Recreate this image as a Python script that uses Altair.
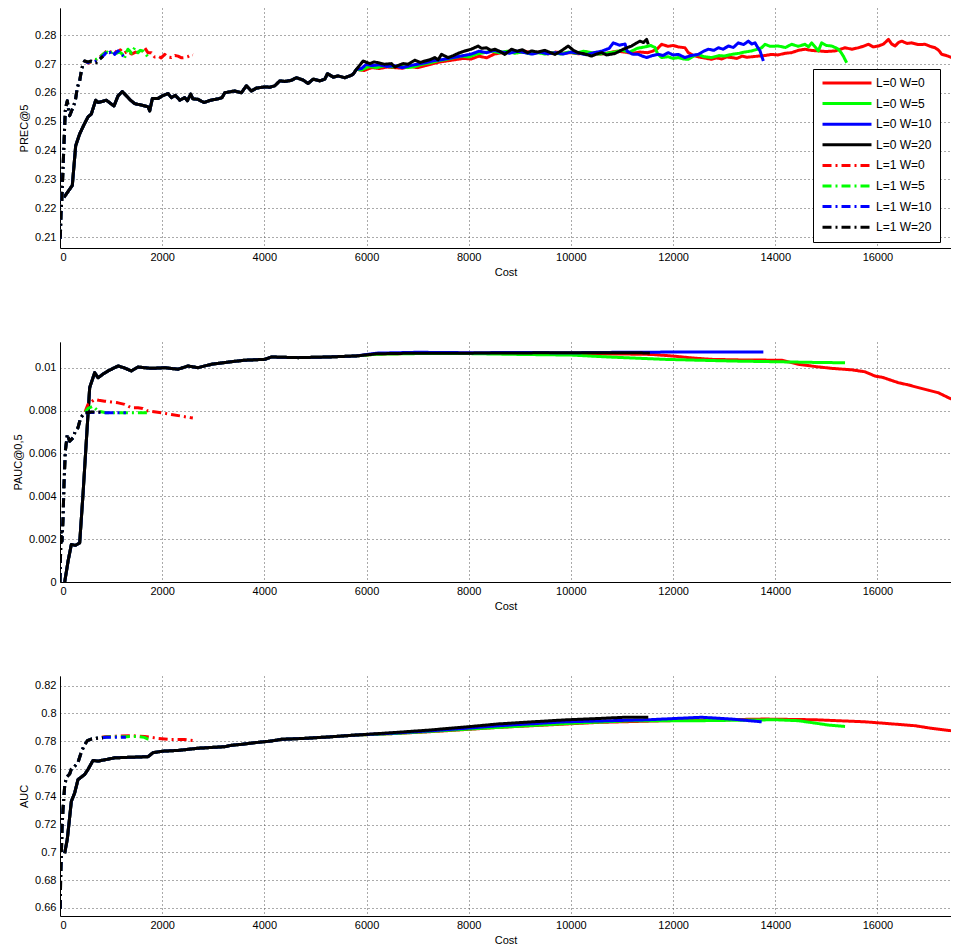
import altair as alt
import pandas as pd

# ---------------- categories / styles ----------------
SERIES = ["L=0 W=0", "L=0 W=5", "L=0 W=10", "L=0 W=20",
          "L=1 W=0", "L=1 W=5", "L=1 W=10", "L=1 W=20"]
COLORS = ["#ff0000", "#00ff00", "#0000ff", "#000000",
          "#ff0000", "#00ff00", "#0000ff", "#000000"]
DASHES = [[1, 0], [1, 0], [1, 0], [1, 0],
          [9, 4, 2, 4], [9, 4, 2, 4], [9, 4, 2, 4], [9, 4, 2, 4]]

X_TICKS = [0, 2000, 4000, 6000, 8000, 10000, 12000, 14000, 16000]
X_DOMAIN = [0, 17440]

P1_TICKS = [0.21, 0.22, 0.23, 0.24, 0.25, 0.26, 0.27, 0.28]
P1_DOMAIN = [0.2062, 0.2895]
P2_TICKS = [0, 0.002, 0.004, 0.006, 0.008, 0.01]
P2_DOMAIN = [0, 0.0112]
P3_TICKS = [0.66, 0.68, 0.70, 0.72, 0.74, 0.76, 0.78, 0.80, 0.82]
P3_DOMAIN = [0.6542, 0.827]

# ---------------- panel 1: PREC@5 ----------------
# early part shared by all L=0 runs (hidden under L=0 W=20)
P1_L0_BASE_X = [78, 241, 307, 385, 470, 548, 613, 699, 744, 820, 907, 980, 1057, 1136, 1220, 1300,
                1380, 1462, 1600, 1723, 1756, 1808, 1919, 2003, 2115, 2180, 2258, 2344, 2441, 2493,
                2558, 2600, 2700, 2819, 2950, 3100, 3172, 3225, 3421, 3551, 3648, 3746, 3844, 4008,
                4106, 4204, 4302, 4400, 4529, 4627, 4758, 4856, 4954, 5085, 5183, 5235, 5350, 5443,
                5574, 5680, 5737, 5802]
P1_L0_BASE_Y = [0.2238, 0.2279, 0.2417, 0.2458, 0.2490, 0.2517, 0.2527, 0.2575, 0.2567, 0.2570,
                0.2575, 0.2565, 0.2555, 0.2590, 0.2605, 0.2590, 0.2575, 0.2563, 0.2558, 0.2552,
                0.2538, 0.2581, 0.2581, 0.2590, 0.2598, 0.2584, 0.2592, 0.2575, 0.2584, 0.2573,
                0.2596, 0.2580, 0.2578, 0.2567, 0.2575, 0.2580, 0.2584, 0.2601, 0.2607, 0.2601,
                0.2625, 0.2607, 0.2617, 0.2621, 0.2620, 0.2625, 0.2642, 0.2640, 0.2644, 0.2653,
                0.2645, 0.2633, 0.2648, 0.2642, 0.2648, 0.2667, 0.2655, 0.2659, 0.2653, 0.2660,
                0.2665, 0.2682]
P1_L0W20_X = [5933, 6064, 6150, 6227, 6350, 6488, 6553, 6650, 6716, 6814, 6945, 7050, 7141, 7250,
              7337, 7400, 7467, 7597, 7700, 7800, 7924, 8050, 8185, 8250, 8348, 8430, 8511, 8600,
              8707, 8838, 8950, 9050, 9150, 9230, 9350, 9491, 9600, 9687, 9800, 9948, 10050, 10144,
              10280, 10405, 10500, 10601, 10700, 10862, 10950, 11026, 11110, 11189, 11270, 11352,
              11420, 11482, 11515]
P1_L0W20_Y = [0.2711, 0.2702, 0.2708, 0.2705, 0.2700, 0.2702, 0.2690, 0.2698, 0.2702, 0.2700,
              0.2714, 0.2706, 0.2711, 0.2716, 0.2723, 0.2715, 0.2734, 0.2723, 0.2730, 0.2738,
              0.2746, 0.2752, 0.2763, 0.2755, 0.2757, 0.2748, 0.2752, 0.2745, 0.2734, 0.2752,
              0.2745, 0.2750, 0.2740, 0.2746, 0.2742, 0.2748, 0.2740, 0.2734, 0.2745, 0.2763,
              0.2748, 0.2740, 0.2735, 0.2728, 0.2735, 0.2740, 0.2732, 0.2737, 0.2745, 0.2752,
              0.2758, 0.2763, 0.2772, 0.2780, 0.2775, 0.2786, 0.2769]
P1_L0W10_X = [5900, 6000, 6100, 6250, 6400, 6550, 6700, 6850, 7000, 7150, 7300, 7450, 7600, 7750,
              7900, 8050, 8200, 8350, 8500, 8650, 8800, 8950, 9100, 9250, 9400, 9550, 9700, 9850,
              10000, 10150, 10300, 10450, 10600, 10750, 10830, 10950, 11060, 11100, 11200, 11319,
              11400, 11482, 11600, 11711, 11800, 11906, 12000, 12102, 12233, 12350, 12494, 12600,
              12690, 12800, 12886, 12980, 13082, 13180, 13277, 13380, 13473, 13540, 13604, 13650,
              13702, 13767]
P1_L0W10_Y = [0.2685, 0.2700, 0.2695, 0.2698, 0.2692, 0.2695, 0.2688, 0.2695, 0.2700, 0.2705,
              0.2712, 0.2715, 0.2720, 0.2725, 0.2730, 0.2735, 0.2745, 0.2740, 0.2748, 0.2742,
              0.2738, 0.2745, 0.2740, 0.2735, 0.2742, 0.2736, 0.2740, 0.2735, 0.2742, 0.2738,
              0.2733, 0.2740, 0.2745, 0.2755, 0.2774, 0.2766, 0.2770, 0.2745, 0.2735, 0.2734,
              0.2728, 0.2723, 0.2730, 0.2734, 0.2730, 0.2740, 0.2732, 0.2734, 0.2723, 0.2730,
              0.2734, 0.2745, 0.2752, 0.2748, 0.2757, 0.2752, 0.2763, 0.2758, 0.2774, 0.2768,
              0.2780, 0.2770, 0.2774, 0.2760, 0.2746, 0.2711]
P1_L0W5_X = [5900, 6050, 6200, 6350, 6500, 6650, 6800, 6950, 7100, 7250, 7400, 7550, 7700, 7850,
             8000, 8150, 8300, 8450, 8600, 8750, 8900, 9050, 9200, 9350, 9500, 9650, 9800, 9950,
             10100, 10250, 10400, 10550, 10700, 10850, 11000, 11150, 11300, 11450, 11560, 11645,
             11700, 11776, 11900, 12000, 12102, 12200, 12298, 12400, 12494, 12600, 12755, 12900,
             13000, 13147, 13300, 13400, 13538, 13650, 13734, 13799, 13900, 14060, 14200, 14321,
             14450, 14582, 14650, 14713, 14780, 14843, 14908, 15000, 15104, 15170, 15235, 15290,
             15333, 15398]
P1_L0W5_Y = [0.2680, 0.2692, 0.2688, 0.2695, 0.2690, 0.2694, 0.2688, 0.2692, 0.2700, 0.2705,
             0.2712, 0.2716, 0.2722, 0.2728, 0.2725, 0.2735, 0.2740, 0.2745, 0.2740, 0.2745,
             0.2738, 0.2742, 0.2736, 0.2740, 0.2735, 0.2740, 0.2735, 0.2742, 0.2738, 0.2745,
             0.2740, 0.2735, 0.2738, 0.2742, 0.2748, 0.2742, 0.2755, 0.2760, 0.2765, 0.2758,
             0.2735, 0.2723, 0.2726, 0.2720, 0.2723, 0.2718, 0.2717, 0.2728, 0.2734, 0.2726,
             0.2723, 0.2730, 0.2728, 0.2734, 0.2738, 0.2742, 0.2746, 0.2752, 0.2757, 0.2769,
             0.2762, 0.2763, 0.2758, 0.2769, 0.2762, 0.2769, 0.2760, 0.2774, 0.2760, 0.2746,
             0.2774, 0.2765, 0.2763, 0.2758, 0.2752, 0.2740, 0.2728, 0.2705]
P1_L0W0_X = [5950, 6100, 6250, 6400, 6550, 6700, 6850, 7000, 7150, 7300, 7450, 7600, 7750, 7900,
             8050, 8200, 8350, 8500, 8650, 8800, 8950, 9100, 9250, 9400, 9550, 9700, 9850, 10000,
             10150, 10300, 10450, 10600, 10750, 10900, 11050, 11200, 11350, 11500, 11600, 11700,
             11776, 11900, 12000, 12100, 12233, 12298, 12400, 12500, 12600, 12755, 12850, 12950,
             13050, 13147, 13250, 13350, 13450, 13550, 13669, 13800, 13930, 14050, 14200, 14321,
             14450, 14582, 14700, 14843, 15000, 15170, 15280, 15366, 15500, 15627, 15720, 15823,
             15920, 16019, 16120, 16215, 16280, 16346, 16410, 16476, 16580, 16672, 16800, 16933,
             17030, 17129, 17200, 17259, 17350, 17455, 17520, 17580]
P1_L0W0_Y = [0.2678, 0.2688, 0.2685, 0.2690, 0.2688, 0.2686, 0.2692, 0.2688, 0.2695, 0.2702,
             0.2708, 0.2712, 0.2716, 0.2720, 0.2718, 0.2728, 0.2722, 0.2735, 0.2740, 0.2745,
             0.2740, 0.2745, 0.2738, 0.2742, 0.2736, 0.2742, 0.2738, 0.2740, 0.2736, 0.2742,
             0.2738, 0.2735, 0.2740, 0.2745, 0.2742, 0.2738, 0.2742, 0.2740, 0.2745, 0.2755,
             0.2769, 0.2762, 0.2765, 0.2760, 0.2757, 0.2740, 0.2730, 0.2725, 0.2722, 0.2717,
             0.2722, 0.2718, 0.2725, 0.2723, 0.2720, 0.2728, 0.2724, 0.2726, 0.2728, 0.2730,
             0.2734, 0.2732, 0.2738, 0.2740, 0.2748, 0.2752, 0.2748, 0.2746, 0.2744, 0.2746,
             0.2752, 0.2757, 0.2752, 0.2757, 0.2762, 0.2769, 0.2760, 0.2763, 0.2770, 0.2786,
             0.2770, 0.2763, 0.2775, 0.2780, 0.2772, 0.2774, 0.2768, 0.2769, 0.2762, 0.2757,
             0.2748, 0.2734, 0.2730, 0.2723, 0.2716, 0.2711]
# early part shared by all L=1 runs (hidden under L=1 W=20)
P1_L1_BASE_X = [6, 20, 35, 55, 75, 90, 104, 125, 143, 170, 189, 220, 255, 300, 339, 385, 418, 450, 483]
P1_L1_BASE_Y = [0.2094, 0.2181, 0.2227, 0.2319, 0.2411, 0.2480, 0.2538, 0.2560, 0.2573, 0.2538,
                0.2521, 0.2535, 0.2550, 0.2573, 0.2619, 0.2642, 0.2677, 0.2700, 0.2711]
P1_L1W20_X = [550, 613, 660, 711, 777, 842]
P1_L1W20_Y = [0.2708, 0.2711, 0.2706, 0.2705, 0.2717, 0.2728]
P1_L1W10_X = [550, 613, 680, 740, 800, 875, 920, 973, 1020, 1071, 1110, 1136, 1170, 1201, 1240, 1266, 1290]
P1_L1W10_Y = [0.2705, 0.2712, 0.2708, 0.2715, 0.2722, 0.2734, 0.2745, 0.2740, 0.2748, 0.2734,
              0.2742, 0.2746, 0.2738, 0.2734, 0.2728, 0.2723, 0.2718]
P1_L1W5_X = [550, 613, 700, 780, 870, 930, 980, 1040, 1100, 1160, 1220, 1260, 1299, 1330, 1364,
             1400, 1430, 1462, 1500, 1527, 1570, 1625, 1660, 1700, 1723, 1750]
P1_L1W5_Y = [0.2706, 0.2710, 0.2716, 0.2725, 0.2738, 0.2742, 0.2735, 0.2745, 0.2738, 0.2742,
             0.2735, 0.2720, 0.2740, 0.2752, 0.2746, 0.2738, 0.2748, 0.2757, 0.2745, 0.2740,
             0.2748, 0.2746, 0.2738, 0.2730, 0.2723, 0.2725]
P1_L1W0_X = [550, 613, 700, 790, 880, 940, 1000, 1060, 1120, 1180, 1250, 1320, 1400, 1480, 1560,
             1658, 1720, 1788, 1850, 1919, 1980, 2050, 2110, 2180, 2250, 2310, 2380, 2441, 2500,
             2571, 2600]
P1_L1W0_Y = [0.2704, 0.2708, 0.2714, 0.2726, 0.2740, 0.2750, 0.2742, 0.2748, 0.2740, 0.2750,
             0.2738, 0.2745, 0.2735, 0.2742, 0.2738, 0.2757, 0.2740, 0.2740, 0.2725, 0.2728,
             0.2722, 0.2734, 0.2725, 0.2723, 0.2730, 0.2728, 0.2722, 0.2723, 0.2726, 0.2734,
             0.2732]

# ---------------- panel 2: PAUC@0,5 ----------------
P2_L0_BASE_X = [92, 160, 222, 300, 385, 450, 515, 581, 679, 744, 840, 940, 1136, 1250, 1397, 1527,
                1788, 2050, 2310, 2506, 2702, 2963, 3355, 3616, 4008, 4139, 4661, 5244, 5800]
P2_L0_BASE_Y = [0.0, 0.0010, 0.00175, 0.00171, 0.00182, 0.00408, 0.00657, 0.00907, 0.00977,
                0.00953, 0.00970, 0.00985, 0.01008, 0.01000, 0.00985, 0.01003, 0.00997, 0.01000,
                0.00993, 0.01008, 0.01000, 0.01016, 0.01028, 0.01035, 0.01039, 0.01050, 0.01047,
                0.01050, 0.01055]
P2_L0W20_X = [6200, 7000, 8000, 9000, 10000, 11000, 11547]
P2_L0W20_Y = [0.01065, 0.01068, 0.01068, 0.01069, 0.01070, 0.01070, 0.01069]
P2_L0W10_X = [6200, 7000, 8000, 9000, 10000, 11000, 12000, 13000, 13767]
P2_L0W10_Y = [0.01068, 0.01072, 0.01070, 0.01071, 0.01070, 0.01072, 0.01073, 0.01073, 0.01073]
P2_L0W5_X = [6200, 7000, 8000, 9000, 10016, 10740, 11841, 12494, 13200, 13995, 14700, 15366]
P2_L0W5_Y = [0.01063, 0.01066, 0.01066, 0.01062, 0.01059, 0.01050, 0.01039, 0.01035, 0.01031,
             0.01028, 0.01025, 0.01023]
P2_L0W0_X = [6200, 7000, 8000, 9000, 10000, 11000, 11580, 11971, 12400, 12755, 13400, 14125, 14452,
             14800, 15104, 15500, 15757, 15953, 16100, 16410, 16600, 16802, 17000, 17194, 17390, 17580]
P2_L0W0_Y = [0.01064, 0.01067, 0.01067, 0.01066, 0.01064, 0.01064, 0.01062, 0.01055, 0.01045,
             0.01039, 0.01036, 0.01035, 0.01016, 0.01005, 0.00997, 0.00990, 0.00981, 0.00961,
             0.00955, 0.00930, 0.00920, 0.00907, 0.00895, 0.00883, 0.00860, 0.00841]
P2_L1_BASE_X = [0, 20, 40, 60, 78, 104, 143, 189, 255, 300, 352, 405, 483]
P2_L1_BASE_Y = [0.0, 0.00237, 0.0019, 0.0030, 0.00455, 0.0061, 0.00689, 0.00657, 0.00673, 0.00704,
                0.0072, 0.00766, 0.0079]
P2_L1W20_X = [548, 613, 842]
P2_L1W20_Y = [0.0079, 0.00793, 0.00793]
P2_L1W10_X = [548, 613, 900, 1290]
P2_L1W10_Y = [0.0079, 0.00792, 0.0079, 0.0079]
P2_L1W5_X = [548, 646, 744, 900, 1071, 1400, 1750]
P2_L1W5_Y = [0.0081, 0.0082, 0.00798, 0.0079, 0.0079, 0.0079, 0.0079]
P2_L1W0_X = [548, 679, 760, 875, 1000, 1136, 1266, 1397, 1527, 1620, 1723, 1984, 2180, 2376, 2571, 2600]
P2_L1W0_Y = [0.00829, 0.00852, 0.00848, 0.00844, 0.0084, 0.00836, 0.00829, 0.00813, 0.00813,
             0.0081, 0.00798, 0.0079, 0.00782, 0.00774, 0.00766, 0.00765]

# ---------------- panel 3: AUC ----------------
P3_L0_BASE_X = [92, 143, 222, 287, 352, 483, 548, 646, 744, 1071, 1723, 1821, 2017, 2310, 2702,
                3225, 3355, 3551, 3812, 4139, 4335, 4792, 5248, 5800]
P3_L0_BASE_Y = [0.6994, 0.7096, 0.7367, 0.7428, 0.7524, 0.7561, 0.7597, 0.7662, 0.7657, 0.7681,
                0.7689, 0.7718, 0.7729, 0.7734, 0.7750, 0.7761, 0.7771, 0.7778, 0.7790, 0.7802,
                0.7814, 0.7821, 0.7831, 0.7845]
P3_L0W20_X = [6500, 7200, 8000, 8577, 9425, 9882, 10536, 11058, 11515]
P3_L0W20_Y = [0.7862, 0.7880, 0.7905, 0.7925, 0.7944, 0.7954, 0.7964, 0.7973, 0.7973]
P3_L0W10_X = [6500, 7200, 8000, 8577, 9882, 11515, 12559, 13147, 13734]
P3_L0W10_Y = [0.7858, 0.7874, 0.7895, 0.7912, 0.7940, 0.7955, 0.7973, 0.7960, 0.7940]
P3_L0W5_X = [6500, 7200, 8000, 8577, 10078, 11189, 12494, 13995, 14452, 14778, 15039, 15366]
P3_L0W5_Y = [0.7855, 0.7870, 0.7888, 0.7900, 0.7931, 0.7948, 0.7948, 0.7955, 0.7948, 0.7931,
             0.7917, 0.7907]
P3_L0W0_X = [6500, 7200, 8000, 8577, 10536, 11841, 13799, 14778, 15757, 16084, 16737, 17063, 17580]
P3_L0W0_Y = [0.7855, 0.7868, 0.7886, 0.7900, 0.7936, 0.7948, 0.7960, 0.7955, 0.7940, 0.7931,
             0.7912, 0.7893, 0.7870]
P3_L1_BASE_X = [6, 12, 25, 39, 59, 92, 124, 189, 222, 287, 352, 405, 470, 535]
P3_L1_BASE_Y = [0.6593, 0.6810, 0.6953, 0.7168, 0.7311, 0.7480, 0.7540, 0.7564, 0.7600, 0.7619,
                0.7648, 0.7708, 0.7768, 0.7804]
P3_L1W20_X = [613, 711, 842]
P3_L1W20_Y = [0.7816, 0.7821, 0.7824]
P3_L1W10_X = [613, 711, 907, 1136, 1290]
P3_L1W10_Y = [0.7816, 0.7822, 0.7829, 0.7829, 0.7829]
P3_L1W5_X = [613, 750, 1000, 1300, 1527, 1650, 1723, 1750]
P3_L1W5_Y = [0.7816, 0.7825, 0.7833, 0.7833, 0.7835, 0.7828, 0.7816, 0.7815]
P3_L1W0_X = [613, 875, 1100, 1397, 1658, 1919, 2180, 2441, 2620]
P3_L1W0_Y = [0.7815, 0.7833, 0.7837, 0.7840, 0.7835, 0.7821, 0.7812, 0.7812, 0.7804]

FONT = "Liberation Sans"
W, H = 891, 240


def build(base0, tails0, base1, tails1):
    rows = []
    for i, s in enumerate(SERIES):
        if i < 4:
            bx, by = base0
            tx, ty = tails0[i]
        else:
            bx, by = base1
            tx, ty = tails1[i - 4]
        for x, y in zip(list(bx) + list(tx), list(by) + list(ty)):
            rows.append({"series": s, "cost": x, "value": y})
    return pd.DataFrame(rows)


df1 = build((P1_L0_BASE_X, P1_L0_BASE_Y),
            [(P1_L0W0_X, P1_L0W0_Y), (P1_L0W5_X, P1_L0W5_Y), (P1_L0W10_X, P1_L0W10_Y), (P1_L0W20_X, P1_L0W20_Y)],
            (P1_L1_BASE_X, P1_L1_BASE_Y),
            [(P1_L1W0_X, P1_L1W0_Y), (P1_L1W5_X, P1_L1W5_Y), (P1_L1W10_X, P1_L1W10_Y), (P1_L1W20_X, P1_L1W20_Y)])
df2 = build((P2_L0_BASE_X, P2_L0_BASE_Y),
            [(P2_L0W0_X, P2_L0W0_Y), (P2_L0W5_X, P2_L0W5_Y), (P2_L0W10_X, P2_L0W10_Y), (P2_L0W20_X, P2_L0W20_Y)],
            (P2_L1_BASE_X, P2_L1_BASE_Y),
            [(P2_L1W0_X, P2_L1W0_Y), (P2_L1W5_X, P2_L1W5_Y), (P2_L1W10_X, P2_L1W10_Y), (P2_L1W20_X, P2_L1W20_Y)])
df3 = build((P3_L0_BASE_X, P3_L0_BASE_Y),
            [(P3_L0W0_X, P3_L0W0_Y), (P3_L0W5_X, P3_L0W5_Y), (P3_L0W10_X, P3_L0W10_Y), (P3_L0W20_X, P3_L0W20_Y)],
            (P3_L1_BASE_X, P3_L1_BASE_Y),
            [(P3_L1W0_X, P3_L1W0_Y), (P3_L1W5_X, P3_L1W5_Y), (P3_L1W10_X, P3_L1W10_Y), (P3_L1W20_X, P3_L1W20_Y)])

LEGEND = alt.Legend(
    title=None, orient="none", legendX=753, legendY=61,
    symbolType="stroke", symbolSize=2400, symbolStrokeWidth=3,
    clipHeight=12, rowPadding=8.6, padding=8, labelOffset=3,
    strokeColor="black", fillColor="white", cornerRadius=0,
    labelFont=FONT, labelFontSize=12, labelColor="black",
)


def panel(df, ytitle, ydomain, yticks, show_legend):
    leg = LEGEND if show_legend else None
    layers = []
    for s in SERIES:
        layers.append(
            alt.Chart(df)
            .transform_filter(alt.datum.series == s)
            .mark_line(strokeWidth=3, clip=True, strokeJoin="round")
            .encode(
                x=alt.X("cost:Q", scale=alt.Scale(domain=X_DOMAIN, nice=False, zero=False),
                        axis=alt.Axis(values=X_TICKS, format="d", title="Cost",
                                      labelPadding=3, titlePadding=4)),
                y=alt.Y("value:Q", scale=alt.Scale(domain=ydomain, nice=False, zero=False),
                        axis=alt.Axis(values=yticks, labelExpr="format(datum.value, '~g')", title=ytitle,
                                      labelPadding=4, titlePadding=5)),
                color=alt.Color("series:N", scale=alt.Scale(domain=SERIES, range=COLORS), legend=leg),
                strokeDash=alt.StrokeDash("series:N", scale=alt.Scale(domain=SERIES, range=DASHES), legend=leg),
            )
        )
    return alt.layer(*layers).properties(width=W, height=H)


chart = (
    alt.vconcat(
        panel(df1, "PREC@5", P1_DOMAIN, P1_TICKS, True),
        panel(df2, "PAUC@0,5", P2_DOMAIN, P2_TICKS, False),
        panel(df3, "AUC", P3_DOMAIN, P3_TICKS, False),
        spacing=65,
    )
    .resolve_scale(color="independent", strokeDash="independent")
    .properties(padding={"left": 4, "top": 0, "right": 0, "bottom": 0})
    .configure_view(stroke=None)
    .configure_axis(
        labelFont=FONT, titleFont=FONT, labelFontSize=11, titleFontSize=11,
        titleFontWeight="normal", labelColor="black", titleColor="black",
        domainColor="black", domainWidth=1, ticks=False,
        grid=True, gridColor="#555555", gridDash=[1, 3], gridOpacity=1,
    )
)

chart.save("out.html", embed_options={"renderer": "svg", "actions": False})
